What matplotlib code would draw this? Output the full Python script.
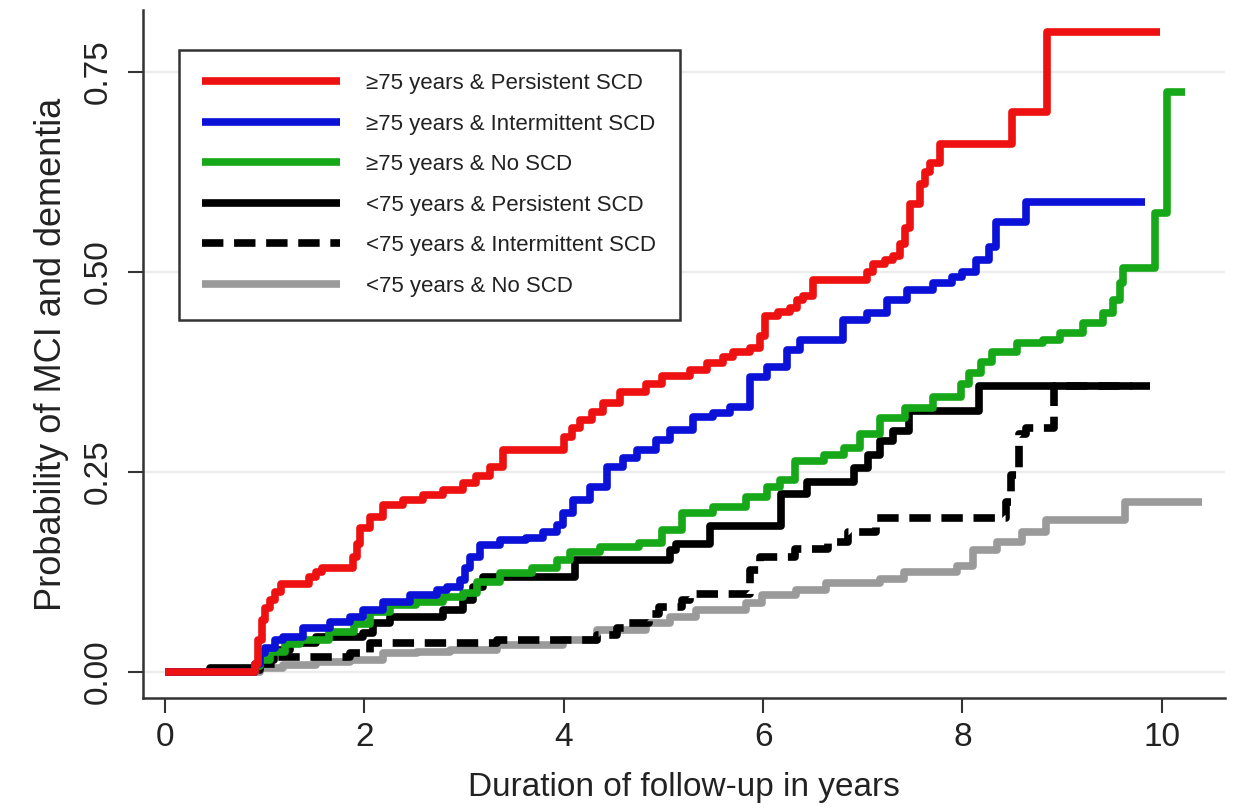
import matplotlib
matplotlib.use("Agg")
import matplotlib.pyplot as plt
from matplotlib.lines import Line2D

plt.rcParams['font.family'] = ['Liberation Sans', 'DejaVu Sans']

# step curves (years, cumulative probability)
red_t = [0, 0.90, 0.93, 0.97, 1.00, 1.05, 1.10, 1.16, 1.45, 1.52, 1.58, 1.89, 1.93, 1.96, 2.06, 2.19, 2.39,
         2.59, 2.79, 2.99, 3.12, 3.26, 3.39, 4.00, 4.08, 4.16, 4.28, 4.39, 4.56, 4.83, 4.99, 5.27, 5.44,
         5.60, 5.70, 5.87, 5.97, 6.02, 6.15, 6.27, 6.34, 6.40, 6.50, 7.04, 7.10, 7.22, 7.30, 7.37, 7.42,
         7.47, 7.57, 7.62, 7.67, 7.77, 8.50, 8.85, 9.98]
red_p = [0, 0.01, 0.04, 0.065, 0.08, 0.09, 0.10, 0.11, 0.119, 0.125, 0.13, 0.144, 0.16, 0.18, 0.194, 0.209,
         0.215, 0.221, 0.228, 0.236, 0.245, 0.256, 0.277, 0.294, 0.305, 0.315, 0.325, 0.336, 0.35, 0.36,
         0.37, 0.378, 0.386, 0.394, 0.40, 0.405, 0.42, 0.445, 0.45, 0.455, 0.465, 0.47, 0.49, 0.50, 0.51,
         0.515, 0.52, 0.535, 0.555, 0.585, 0.61, 0.625, 0.636, 0.66, 0.70, 0.80, 0.80]

blue_t = [0, 0.90, 0.95, 1.00, 1.10, 1.18, 1.39, 1.66, 1.86, 1.99, 2.19, 2.46, 2.73, 2.83, 2.96, 3.01, 3.06,
          3.16, 3.36, 3.62, 3.79, 3.93, 3.99, 4.09, 4.26, 4.43, 4.59, 4.74, 4.93, 5.07, 5.30, 5.50, 5.67,
          5.87, 6.04, 6.24, 6.37, 6.80, 7.04, 7.24, 7.44, 7.70, 7.90, 8.00, 8.14, 8.27, 8.34, 8.64, 9.83]
blue_p = [0, 0.01, 0.024, 0.03, 0.04, 0.044, 0.055, 0.0625, 0.069, 0.0775, 0.0875, 0.096, 0.1025, 0.106,
          0.115, 0.13, 0.144, 0.159, 0.165, 0.168, 0.175, 0.184, 0.199, 0.215, 0.231, 0.256, 0.267, 0.2775,
          0.29, 0.3025, 0.319, 0.324, 0.331, 0.369, 0.381, 0.4025, 0.415, 0.44, 0.449, 0.465, 0.4775,
          0.486, 0.494, 0.50, 0.515, 0.531, 0.5625, 0.5875, 0.5875]

green_t = [0, 0.90, 0.95, 1.05, 1.20, 1.35, 1.65, 1.90, 2.06, 2.26, 2.52, 2.79, 2.99, 3.13, 3.36, 3.68, 3.93,
           4.06, 4.36, 4.76, 4.99, 5.19, 5.50, 5.83, 6.04, 6.17, 6.32, 6.61, 6.81, 6.97, 7.17, 7.42, 7.70,
           7.99, 8.07, 8.19, 8.30, 8.55, 8.81, 8.98, 9.21, 9.41, 9.51, 9.58, 9.61, 9.93, 10.05, 10.23]
green_p = [0, 0.008, 0.015, 0.025, 0.035, 0.04, 0.05, 0.06, 0.075, 0.084, 0.0875, 0.094, 0.099, 0.1125,
           0.124, 0.13, 0.14, 0.15, 0.156, 0.161, 0.1775, 0.199, 0.206, 0.219, 0.231, 0.24, 0.264, 0.271,
           0.28, 0.2975, 0.3175, 0.33, 0.344, 0.36, 0.374, 0.387, 0.40, 0.411, 0.415, 0.424, 0.436, 0.449,
           0.465, 0.486, 0.505, 0.574, 0.725, 0.725]

black_t = [0, 0.45, 0.95, 1.09, 1.25, 1.52, 1.99, 2.09, 2.26, 2.79, 2.99, 3.09, 3.19, 4.11, 5.07, 5.13, 5.47,
           6.18, 6.44, 6.91, 7.05, 7.17, 7.30, 7.46, 8.17, 9.88]
black_p = [0, 0.005, 0.015, 0.0275, 0.036, 0.044, 0.049, 0.061, 0.069, 0.0775, 0.09, 0.106, 0.119, 0.14,
           0.1525, 0.16, 0.182, 0.222, 0.2375, 0.255, 0.271, 0.289, 0.301, 0.326, 0.3575, 0.3575]

dash_t = [0, 0.45, 0.95, 1.12, 1.86, 2.06, 3.33, 4.33, 4.53, 4.66, 4.86, 4.96, 5.19, 5.27, 5.87, 5.97, 6.32,
          6.65, 6.85, 7.13, 8.44, 8.49, 8.57, 8.64, 8.92, 9.70]
dash_p = [0, 0.003, 0.01, 0.019, 0.024, 0.036, 0.04, 0.046, 0.055, 0.061, 0.0725, 0.081, 0.09, 0.0975,
          0.1275, 0.144, 0.154, 0.1625, 0.175, 0.1925, 0.2125, 0.246, 0.2975, 0.305, 0.3575, 0.3575]

gray_t = [0, 0.95, 1.18, 1.52, 1.86, 2.19, 2.53, 2.86, 3.33, 3.99, 4.33, 4.83, 5.07, 5.33, 5.83, 5.99, 6.33,
          6.63, 7.17, 7.41, 7.95, 8.11, 8.35, 8.60, 8.84, 9.63, 10.40]
gray_p = [0, 0.005, 0.009, 0.0125, 0.015, 0.024, 0.025, 0.0275, 0.034, 0.04, 0.0525, 0.061, 0.069, 0.0775,
          0.086, 0.096, 0.1025, 0.111, 0.116, 0.125, 0.1325, 0.1525, 0.1625, 0.175, 0.19, 0.2125, 0.2125]

labels = ["\u226575 years & Persistent SCD", "\u226575 years & Intermittent SCD", "\u226575 years & No SCD",
          "<75 years & Persistent SCD", "<75 years & Intermittent SCD", "<75 years & No SCD"]

series = [
    (red_t, red_p, "#ee1111", "-"),
    (blue_t, blue_p, "#0b11d6", "-"),
    (green_t, green_p, "#16a818", "-"),
    (black_t, black_p, "black", "-"),
    (dash_t, dash_p, "black", (0, (2.8, 1.4))),
    (gray_t, gray_p, "#9a9a9a", "-"),
]

fig = plt.figure(figsize=(12.37, 8.09), dpi=100)
ax = fig.add_axes([0.1156, 0.137, 0.8744, 0.851])

for yv in [0, 0.25, 0.5, 0.75]:
    ax.axhline(yv, color="#ececec", lw=1.6, zorder=0)

# draw back to front so red ends on top
for t, p, c, ls in reversed(series):
    ax.plot(t, p, drawstyle="steps-post", color=c, linestyle=ls, lw=5.5,
            solid_capstyle="butt", dash_capstyle="butt")

ax.set_xlim(-0.22, 10.63)
ax.set_ylim(-0.0325, 0.8275)
ax.set_xticks([0, 2, 4, 6, 8, 10])
ax.set_yticks([0, 0.25, 0.5, 0.75])
ax.set_yticklabels(["0.00", "0.25", "0.50", "0.75"], rotation=90, va="center")
ax.tick_params(axis="both", labelsize=24, length=11, width=1.5, color="#333333", labelcolor="#222222")
ax.tick_params(axis="x", pad=6)
ax.tick_params(axis="y", pad=10)

for s in ["top", "right"]:
    ax.spines[s].set_visible(False)
for s in ["left", "bottom"]:
    ax.spines[s].set_linewidth(1.8)
    ax.spines[s].set_color("#333333")

ax.set_xlabel("Duration of follow-up in years", fontsize=24, color="#222222", labelpad=14)
ax.set_ylabel("Probability of MCI and dementia", fontsize=26, color="#222222", labelpad=10)

handles = [Line2D([], [], color=c, linestyle=ls, lw=5.5, solid_capstyle="butt", dash_capstyle="butt")
           for _, _, c, ls in series]
leg = ax.legend(handles, labels, loc="upper left", bbox_to_anchor=(0.033, 0.942), fontsize=16,
                handlelength=6.2, handletextpad=1.2, labelspacing=0.88, borderpad=1.05,
                fancybox=False, framealpha=1, edgecolor="#333333", borderaxespad=0)
leg.get_frame().set_linewidth(1.8)
for txt in leg.get_texts():
    txt.set_color("#222222")

fig.savefig("out.png", dpi=100)
